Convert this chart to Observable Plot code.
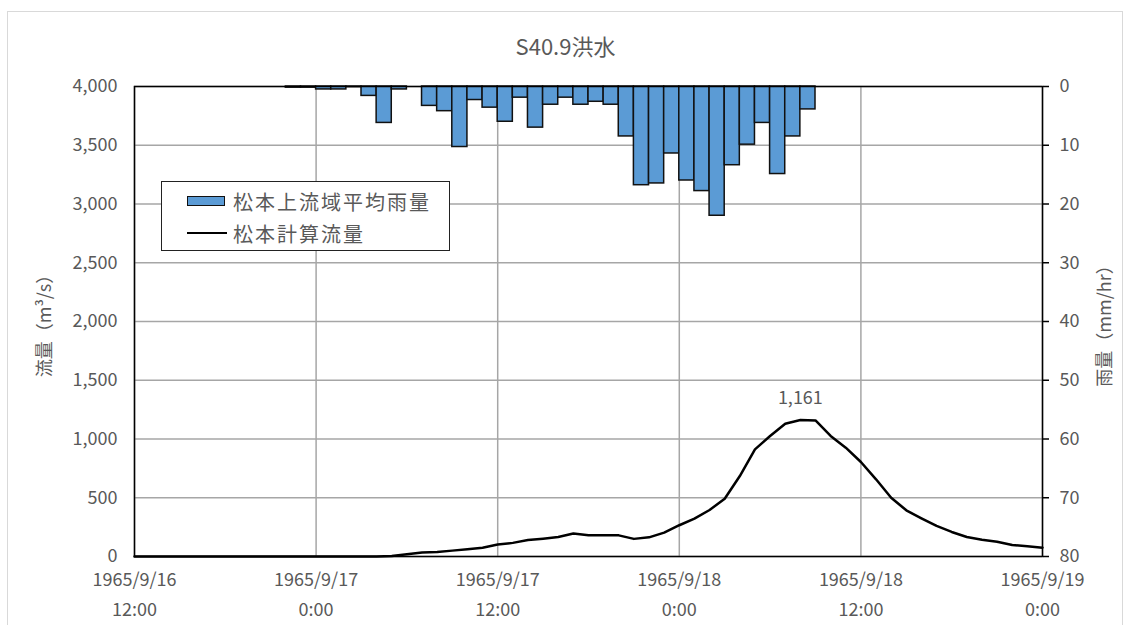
<!DOCTYPE html>
<html>
<head>
<meta charset="utf-8">
<script src="https://cdn.jsdelivr.net/npm/d3@7"></script>
<script src="https://cdn.jsdelivr.net/npm/@observablehq/plot@0.6"></script>
<style>
  html, body { margin: 0; padding: 0; background: #fff; }
  #wrap { position: relative; width: 1131px; height: 625px; overflow: hidden; font-family: 'Noto Sans CJK JP', sans-serif; color: #595959; }
  #border { position: absolute; left: 7px; top: 11px; width: 1116px; height: 640px; border: 1px solid #d9d9d9; box-sizing: border-box; }
  #title { position: absolute; left: 0; width: 1131px; top: 29px; text-align: center; font-size: 22px; color: #595959; }
  #legend { position: absolute; left: 161px; top: 181px; width: 289px; height: 70px; border: 1.5px solid #222; background: #fff; box-sizing: border-box; }
  .lg-row { position: absolute; left: 0; height: 30px; display: flex; align-items: center; font-size: 20px; letter-spacing: 2px; color: #595959; white-space: nowrap; }
  .sw-bar { position: absolute; left: 25px; width: 38px; height: 10px; background: #5b9bd5; border: 1.5px solid #111; box-sizing: border-box; }
  .sw-line { position: absolute; left: 25px; width: 40px; height: 0; border-top: 2.5px solid #000; }
  #wrap svg { position: absolute; left: 0; top: 0; }
</style>
</head>
<body>
<div id="wrap">
  <div id="border"></div>
</div>
<script>
// ---- data ----
const startUTC = Date.UTC(1965, 8, 16, 12); // 1965/9/16 12:00
const hourMs = 3600e3;

// hourly basin average rainfall (mm/hr), hour i covers [start+i h, start+(i+1) h]
const rainfall = [
  0, 0, 0, 0, 0, 0, 0, 0, 0, 0,
  0.2, 0.2, 0.5, 0.5, 0.1, 1.6, 6.2, 0.5, 0, 3.3,
  4.2, 10.3, 2.3, 3.6, 6.0, 1.9, 7.0, 3.1, 1.9, 3.1,
  2.6, 3.1, 8.5, 16.8, 16.5, 11.4, 16.0, 17.8, 22.0, 13.4,
  9.9, 6.2, 14.9, 8.5, 3.9, 0, 0, 0, 0, 0,
  0, 0, 0, 0, 0, 0, 0, 0, 0, 0
];

// hourly computed discharge at Matsumoto (m3/s), at start + i hours
const discharge = [
  0, 0, 0, 0, 0, 0, 0, 0, 0, 0,
  0, 0, 0, 0, 0, 0, 0, 5, 20, 35,
  38, 50, 62, 75, 102, 116, 140, 152, 166, 195,
  180, 180, 180, 150, 163, 203, 266, 322, 396, 492,
  685, 912, 1026, 1130, 1161, 1158, 1026, 926, 804, 657,
  500, 393, 325, 260, 209, 166, 143, 126, 98, 87,
  75
];

const peakHour = 44;
const peakValue = 1161;

const flowTicks = [0, 500, 1000, 1500, 2000, 2500, 3000, 3500, 4000];
const rainTicks = [0, 10, 20, 30, 40, 50, 60, 70, 80];
const xTickHours = [0, 12, 24, 36, 48, 60];
const xTickDates = ["1965/9/16", "1965/9/17", "1965/9/17", "1965/9/18", "1965/9/18", "1965/9/19"];
const xTickTimes = ["12:00", "0:00", "12:00", "0:00", "12:00", "0:00"];

const titleText = "S40.9洪水";
const leftLabel = "流量（m³/s）";
const rightLabel = "雨量（mm/hr）";
const rainName = "松本上流域平均雨量";
const flowName = "松本計算流量";

// ---- derived tables ----
const timeAt = h => new Date(startUTC + h * hourMs);
const flowMax = 4000, rainMax = 80;
const rainToY = r => flowMax - r * (flowMax / rainMax);

const rainRows = rainfall.map((r, i) => ({t1: timeAt(i), t2: timeAt(i + 1), r}))
  .filter(d => d.r > 0);
const flowRows = discharge.map((q, i) => ({t: timeAt(i), q}));
const xTicks = xTickHours.map(timeAt);
const tickIndex = d => xTicks.findIndex(t => +t === +d);

const chart = Plot.plot({
  width: 1131,
  height: 625,
  marginLeft: 134,
  marginRight: 89,
  marginTop: 86,
  marginBottom: 69,
  style: {fontFamily: "'Noto Sans CJK JP', sans-serif", fontSize: "18px", color: "#595959", background: "transparent", overflow: "visible"},
  x: {type: "utc", domain: [timeAt(0), timeAt(60)]},
  y: {domain: [0, flowMax]},
  marks: [
    Plot.gridX({ticks: xTicks, stroke: "#a6a6a6", strokeOpacity: 1, strokeWidth: 1.5}),
    Plot.gridY({ticks: flowTicks, stroke: "#a6a6a6", strokeOpacity: 1, strokeWidth: 1.5}),
    Plot.rect(rainRows, {x1: "t1", x2: "t2", y1: flowMax, y2: d => rainToY(d.r), fill: "#5b9bd5", stroke: "#111", strokeWidth: 1.5}),
    Plot.line(flowRows, {x: "t", y: "q", stroke: "#000", strokeWidth: 2.5}),
    Plot.frame({stroke: "#000", strokeWidth: 1.5}),
    Plot.axisY({anchor: "left", ticks: flowTicks, tickFormat: d3.format(","), tickSize: 0, tickPadding: 17, label: null, fill: "#595959"}),
    Plot.axisY({anchor: "right", ticks: rainTicks.map(rainToY), tickFormat: d => String(Math.round((flowMax - d) / (flowMax / rainMax))), tickSize: 6, tickPadding: 11, stroke: "#000", strokeWidth: 1.5, label: null, fill: "#595959"}),
    Plot.axisX({ticks: xTicks, tickFormat: d => xTickDates[tickIndex(d)], tickSize: 0, tickPadding: 17, label: null, fill: "#595959"}),
    Plot.axisX({ticks: xTicks, tickFormat: d => xTickTimes[tickIndex(d)], tickSize: 0, tickPadding: 47, label: null, fill: "#595959"}),
    Plot.text([leftLabel], {frameAnchor: "left", textAnchor: "middle", dx: -89, rotate: -90, text: d => d, fontSize: 18, fill: "#595959"}),
    Plot.text([rightLabel], {frameAnchor: "right", textAnchor: "middle", dx: 63, rotate: -90, text: d => d, fontSize: 18, fill: "#595959"}),
    Plot.text([{t: timeAt(peakHour), q: peakValue}], {x: "t", y: "q", text: d => d3.format(",")(d.q), dy: -22, fontSize: 18, fill: "#595959"})
  ]
});

const wrap = document.getElementById("wrap");
wrap.appendChild(chart);

const title = document.createElement("div");
title.id = "title";
title.textContent = titleText;
wrap.appendChild(title);

const legend = document.createElement("div");
legend.id = "legend";
legend.innerHTML = `
  <div class="lg-row" style="top:4px;"><span class="sw-bar" style="top:10px;"></span><span style="margin-left:71px;">${rainName}</span></div>
  <div class="lg-row" style="top:36px;"><span class="sw-line" style="top:14px;"></span><span style="margin-left:71px;">${flowName}</span></div>`;
wrap.appendChild(legend);
</script>
</body>
</html>
